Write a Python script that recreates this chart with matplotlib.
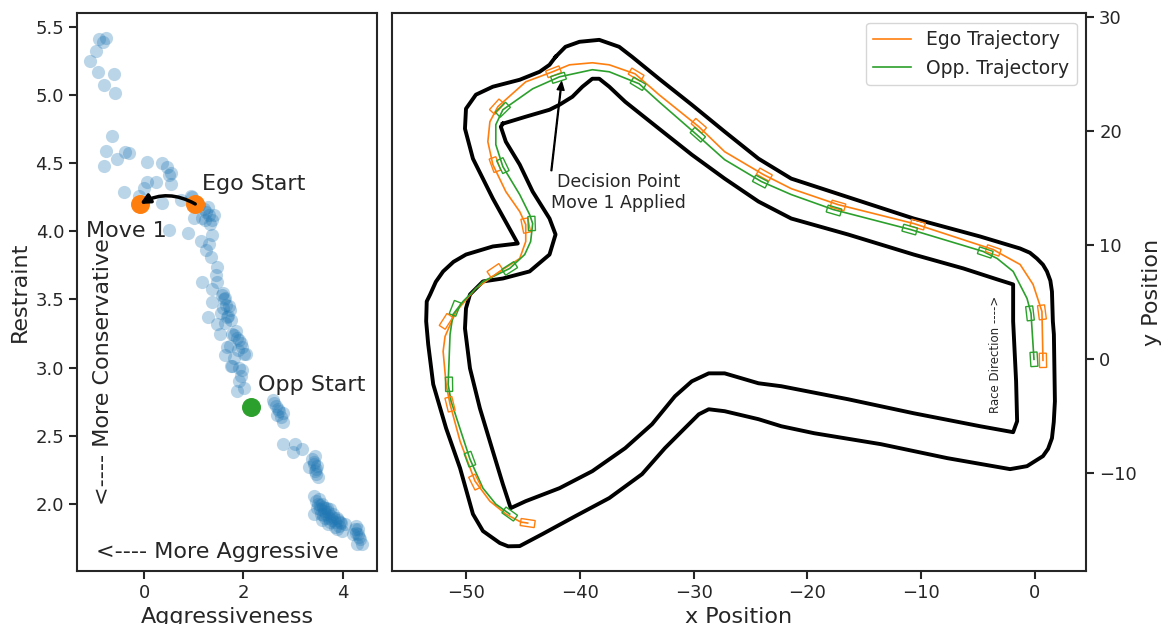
"""Aggressiveness/restraint scatter next to the race track trajectories"""

import numpy as np
import matplotlib.pyplot as plt
from matplotlib.patches import Rectangle

# ---- left panel: opponent parameter samples ----
aggressiveness = [
    -0.91, -0.77, -0.83, -0.97, -1.09, -0.93, -0.61, -0.81, -0.59, -0.65,
    -0.77, -0.81, -0.55, -0.38, -0.30, 0.06, 0.36, 0.46, 0.55, 0.51,
    0.55, -0.40, 0.06, 0.24, 0.00, -0.10, 0.36, 0.75, 0.51, 0.89, 0.97,
    0.95, 1.25, 1.31, 1.17, 1.37, 1.01, 1.37, 1.15, 1.31, 1.25, 1.35,
    1.47, 1.45, 1.17, 1.47, 1.37, 1.56, 1.62, 1.37, 1.58, 1.68, 1.29,
    1.47, 1.76, 1.52, 1.82, 1.92, 1.72, 1.98, 2.02, 1.62, 1.82, 1.76,
    1.92, 1.96, 1.66, 1.72, 1.78, 1.66, 2.06, 1.78, 1.98, 1.92, 2.02,
    1.88, 2.59, 2.69, 2.79, 2.67, 2.79, 2.79, 3.03, 3.17, 2.99, 3.39,
    3.43, 3.47, 3.33, 3.47, 3.43, 3.47, 3.54, 3.43, 3.64, 3.74, 3.80,
    3.64, 3.88, 3.94, 3.70, 3.98, 4.04, 4.24, 4.30, 4.38, 4.28, 4.20,
    1.20, 1.28, 1.33, 1.22, 1.10, 1.40, 1.60, 1.65, 1.55, 1.70, 1.62,
    1.58, 1.88, 1.95, 1.85, 1.90, 2.65, 2.72, 2.62, 2.75, 3.42, 3.48,
    3.45, 3.50, 3.44, 3.50, 3.55, 3.58, 3.60, 3.62, 3.66, 3.70, 3.72,
    3.76, 3.78, 3.82, 3.85, 3.90, 3.92, 3.96, 3.52, 3.56, 3.60, 3.68,
    3.74, 3.84, 3.88, 3.48, 3.58, 4.26, 4.30, 4.32, 4.34, 4.27,
]
restraint = [
    5.41, 5.42, 5.39, 5.32, 5.25, 5.17, 5.15, 5.07, 5.01, 4.70,
    4.59, 4.48, 4.53, 4.58, 4.57, 4.51, 4.50, 4.47, 4.43, 4.41,
    4.35, 4.29, 4.36, 4.36, 4.32, 4.26, 4.21, 4.23, 4.01, 3.99, 4.25,
    4.26, 4.14, 4.12, 4.10, 4.08, 4.10, 3.97, 3.93, 3.91, 3.86, 3.81,
    3.74, 3.68, 3.63, 3.63, 3.58, 3.53, 3.51, 3.48, 3.44, 3.38, 3.37,
    3.32, 3.35, 3.25, 3.24, 3.20, 3.16, 3.15, 3.10, 3.09, 3.07, 3.01,
    3.00, 2.94, 3.37, 3.42, 3.25, 3.15, 3.10, 3.01, 2.98, 2.90, 2.85,
    2.83, 2.76, 2.70, 2.67, 2.65, 2.60, 2.44, 2.44, 2.40, 2.38, 2.33,
    2.29, 2.26, 2.27, 2.22, 2.06, 2.02, 1.99, 1.93, 1.97, 1.96, 1.93,
    1.90, 1.90, 1.87, 1.85, 1.80, 1.85, 1.82, 1.78, 1.71, 1.71, 1.78,
    4.16, 4.18, 4.05, 4.08, 4.19, 4.12, 3.50, 3.46, 3.40, 3.45, 3.33,
    3.55, 3.22, 3.18, 3.27, 3.13, 2.72, 2.68, 2.74, 2.64, 2.31, 2.28,
    2.24, 2.20, 2.35, 2.00, 1.96, 2.00, 1.98, 1.95, 1.93, 1.94, 1.90,
    1.91, 1.88, 1.90, 1.87, 1.88, 1.84, 1.86, 2.04, 1.93, 1.92, 1.97,
    1.87, 1.83, 1.82, 1.97, 1.88, 1.84, 1.82, 1.76, 1.74, 1.79,
]
ego_start = (1.03, 4.20)
ego_move1 = (-0.08, 4.20)
opp_start = (2.16, 2.71)

# ---- right panel: track boundaries ----
outer_x = [
    -42.13, -41.26, -40.03, -38.29, -36.54, -35.40, -33.04, -30.16, -27.27,
    -24.30, -21.42, -17.92, -10.66, -4.81, -1.31, -0.45, 0.17, 0.70, 1.05,
    1.35, 1.49, 1.57, 1.66, 1.75, 1.65, 1.49, 1.15, 0.70, -0.70, -2.19,
    -7.69, -13.55, -19.41, -22.29, -24.30, -27.27, -28.67, -29.54, -30.77,
    -32.52, -34.53, -37.41, -40.38, -43.27, -45.28, -46.30, -47.03, -48.51,
    -49.39, -50.52, -51.75, -52.88, -53.32, -53.50, -53.45, -53.15, -52.65,
    -52.01, -51.10, -50.00, -47.64, -45.45, -47.64, -49.39, -50.09, -50.00,
    -49.13, -47.64, -45.28, -43.53, -42.66, -42.13,
]
outer_y = [
    26.53, 27.41, 27.85, 28.02, 27.41, 26.53, 24.61, 22.33, 19.97,
    17.60, 15.85, 14.71, 12.35, 10.77, 9.72, 9.35, 8.84, 8.30, 7.71,
    6.90, 5.95, 3.33, 2.19, -3.68, -5.50, -6.92, -7.85, -8.49, -9.37, -9.63,
    -8.67, -7.44, -6.48, -5.87, -5.25, -4.55, -4.38, -4.82, -6.04,
    -7.79, -10.07, -12.17, -13.75, -15.32, -16.38, -16.40, -16.11, -15.06,
    -13.57, -9.55, -6.04, -2.19, 1.31, 3.33, 5.08, 5.69, 6.80,
    7.71, 8.55, 9.19, 9.90, 10.16, 14.10, 17.60, 20.23, 21.98,
    23.21, 23.91, 24.52, 25.22, 25.83, 26.53,
]
inner_x = [
    -46.76, -44.75, -42.66, -41.78, -40.65, -39.77, -38.90, -38.29, -37.41,
    -36.01, -33.04, -30.16, -27.27, -24.30, -21.42, -16.43, -10.66, -6.29,
    -3.32, -1.92, -1.92, -1.66, -1.57, -1.92, -4.81, -10.66, -16.43, -22.29,
    -24.30, -27.27, -28.67, -30.16, -31.64, -33.65, -36.01, -38.90, -41.78,
    -44.75, -46.07, -46.76, -47.64, -48.78, -49.65, -50.09, -50.00, -49.65,
    -48.51, -46.76, -44.41, -42.66, -42.13, -42.66, -44.14, -45.28, -46.50,
    -46.94, -46.76,
]
inner_y = [
    20.67, 21.28, 21.89, 22.33, 23.03, 23.91, 24.61, 24.61, 23.91,
    22.59, 20.23, 17.95, 15.85, 13.84, 12.35, 10.95, 9.19, 7.97,
    7.01, 6.57, 3.33, -1.93, -5.43, -6.39, -5.87, -4.73, -3.50, -2.36,
    -2.10, -1.23, -1.23, -1.93, -3.24, -5.69, -7.79, -9.81, -11.30,
    -12.44, -13.05, -10.95, -8.06, -4.29, -0.79, 2.71, 4.47, 5.69,
    6.83, 7.09, 7.71, 9.19, 10.95, 12.35, 14.71, 17.08, 19.09,
    20.40, 20.67,
]

# ---- trajectories ----
ego_x = [
    0.70, 0.61, -0.17, -1.31, -3.06, -3.67, -10.66, -17.31, -21.42, -23.86,
    -27.27, -29.54, -33.04, -35.14, -37.41, -38.90, -40.91, -42.39, -44.75,
    -47.20, -47.90, -48.08, -47.64, -46.50, -45.28, -44.75, -44.75, -45.28,
    -47.03, -49.13, -50.87, -51.84, -52.01, -51.75, -51.40, -50.52, -49.21,
    -47.90, -46.50, -45.19, -44.58,
]
ego_y = [
    -0.09, 4.20, 6.57, 8.32, 9.28, 9.63, 11.91, 13.57, 14.97, 16.20,
    18.21, 20.40, 23.21, 25.04, 25.83, 26.01, 25.83, 25.22, 24.34,
    22.16, 20.84, 19.09, 17.08, 14.71, 12.96, 11.82, 10.33, 8.84,
    7.71, 6.22, 4.20, 2.01, 0.70, -2.19, -3.94, -7.18, -10.68,
    -12.44, -13.57, -14.27, -14.36,
]
opp_x = [
    -0.09, -0.35, -0.70, -1.92, -3.32, -4.55, -10.93, -17.74, -21.42, -24.04,
    -27.27, -29.72, -33.04, -34.79, -37.41, -38.90, -41.78, -44.14, -46.76,
    -47.38, -47.38, -46.76, -45.28, -44.41, -44.14, -44.32, -44.84, -46.16,
    -48.51, -50.26, -51.14, -51.40, -51.57, -51.31, -49.65, -48.51, -47.38,
    -46.16,
]
opp_y = [
    0.00, 4.03, 5.34, 7.71, 8.84, 9.46, 11.38, 13.14, 14.45, 15.59,
    17.51, 19.70, 22.59, 24.17, 25.22, 25.40, 24.78, 23.73, 21.89,
    20.58, 18.83, 16.90, 14.45, 12.70, 11.91, 10.33, 9.19, 7.97,
    6.83, 5.08, 3.94, 2.19, -2.19, -3.68, -8.76, -11.30, -12.70,
    -13.57,
]

# car footprints along each trajectory
ego_car_x = [0.70, 0.61, -3.67, -10.31, -17.31, -23.78, -29.54, -35.05, -42.31,
             -47.29, -47.46, -44.75, -47.46, -51.75, -51.40, -49.21, -44.58]
ego_car_y = [-0.09, 4.12, 9.55, 11.82, 13.49, 16.20, 20.49, 24.96, 25.22,
             22.16, 17.08, 11.73, 7.79, 3.33, -3.94, -10.77, -14.36]
opp_car_x = [-0.09, -0.44, -4.37, -11.01, -17.66, -24.13, -29.63, -34.88, -41.87,
             -46.76, -46.76, -44.23, -46.16, -50.96, -51.49, -49.65, -46.16]
opp_car_y = [0.00, 4.03, 9.37, 11.38, 13.05, 15.59, 19.70, 24.17, 24.69,
             21.89, 16.99, 11.91, 7.97, 4.47, -2.19, -8.76, -13.57]

CAR_LENGTH = 1.25
CAR_WIDTH = 0.62
BLUE = "#1f77b4"
ORANGE = "#ff7f0e"
GREEN = "#2ca02c"


def car_headings(cx, cy, tx, ty):
    """Heading of each car from the nearest trajectory segment"""
    tx, ty = np.asarray(tx), np.asarray(ty)
    angles = []
    for x, y in zip(cx, cy):
        i = int(np.argmin((tx - x) ** 2 + (ty - y) ** 2))
        j0, j1 = max(i - 1, 0), min(i + 1, len(tx) - 1)
        angles.append(np.degrees(np.arctan2(ty[j1] - ty[j0], tx[j1] - tx[j0])))
    return angles


def draw_cars(ax, cx, cy, tx, ty, color):
    """Outline rectangles for car poses"""
    for x, y, ang in zip(cx, cy, car_headings(cx, cy, tx, ty)):
        ax.add_patch(Rectangle((x - CAR_LENGTH / 2, y - CAR_WIDTH / 2),
                               CAR_LENGTH, CAR_WIDTH, angle=ang,
                               rotation_point="center", fill=False,
                               edgecolor=color, lw=1.0, zorder=4))


plt.rcParams.update({
    "font.family": ["DejaVu Sans"],
    "axes.edgecolor": ".15",
    "axes.linewidth": 1.5,
    "axes.labelcolor": ".15",
    "text.color": ".15",
    "xtick.color": ".15",
    "ytick.color": ".15",
    "xtick.major.size": 6,
    "ytick.major.size": 6,
    "xtick.major.width": 1.5,
    "ytick.major.width": 1.5,
    "xtick.labelsize": 13,
    "ytick.labelsize": 13,
    "axes.labelsize": 16,
})

fig = plt.figure(figsize=(11.72, 6.24), dpi=100)
ax1 = fig.add_axes([0.0660, 0.0854, 0.2557, 0.8933])
ax2 = fig.add_axes([0.3342, 0.0854, 0.5924, 0.8933])

# left panel
ax1.scatter(aggressiveness, restraint, s=90, color=BLUE, alpha=0.3,
            linewidths=0, zorder=2)
ax1.scatter(*ego_start, s=160, color=ORANGE, zorder=3)
ax1.scatter(*ego_move1, s=160, color=ORANGE, zorder=3)
ax1.scatter(*opp_start, s=160, color=GREEN, zorder=3)
ax1.annotate("", xy=ego_move1, xytext=ego_start,
             arrowprops=dict(arrowstyle="-|>", connectionstyle="arc3,rad=0.28",
                             color="black", lw=2.5, mutation_scale=14,
                             shrinkA=0, shrinkB=0), zorder=4)
ax1.text(1.17, 4.35, "Ego Start", fontsize=16, va="center")
ax1.text(-1.17, 4.0, "Move 1", fontsize=16, va="center")
ax1.text(2.3, 2.87, "Opp Start", fontsize=16, va="center")
ax1.text(-0.83, 2.97, "<---- More Conservative", fontsize=16, rotation=90,
         ha="center", va="center")
ax1.text(-0.97, 1.65, "<---- More Aggressive", fontsize=16, va="center")
ax1.set_xlim(-1.343, 4.69)
ax1.set_ylim(1.511, 5.598)
ax1.set_xticks([0, 2, 4])
ax1.set_yticks(np.arange(2.0, 5.51, 0.5))
ax1.set_xlabel("Aggressiveness")
ax1.set_ylabel("Restraint")

# right panel
ax2.plot(outer_x, outer_y, color="black", lw=2.8, solid_joinstyle="round",
         zorder=2)
ax2.plot(inner_x, inner_y, color="black", lw=2.8, solid_joinstyle="round",
         zorder=2)
ax2.plot(ego_x, ego_y, color=ORANGE, lw=1.2, label="Ego Trajectory", zorder=3)
ax2.plot(opp_x, opp_y, color=GREEN, lw=1.2, label="Opp. Trajectory", zorder=3)
draw_cars(ax2, ego_car_x, ego_car_y, ego_x, ego_y, ORANGE)
draw_cars(ax2, opp_car_x, opp_car_y, opp_x, opp_y, GREEN)
ax2.annotate("Decision Point\nMove 1 Applied", xy=(-41.6, 24.35),
             xytext=(-36.6, 14.6), fontsize=12.5, ha="center", va="center",
             arrowprops=dict(facecolor="black", edgecolor="black", width=0.6,
                             headwidth=5, headlength=6, shrink=0.0))
ax2.text(-3.5, 0.42, "Race Direction ---->", fontsize=8.5, rotation=90,
         ha="center", va="center")
ax2.set_xlim(-56.53, 4.48)
ax2.set_ylim(-18.54, 30.35)
ax2.set_xticks([-50, -40, -30, -20, -10, 0])
ax2.set_yticks([-10, 0, 10, 20, 30])
ax2.yaxis.tick_right()
ax2.yaxis.set_label_position("right")
ax2.set_xlabel("x Position")
ax2.set_ylabel("y Position")
ax2.legend(loc="upper right", fontsize=13.5)

fig.savefig("out.png", dpi=100)
